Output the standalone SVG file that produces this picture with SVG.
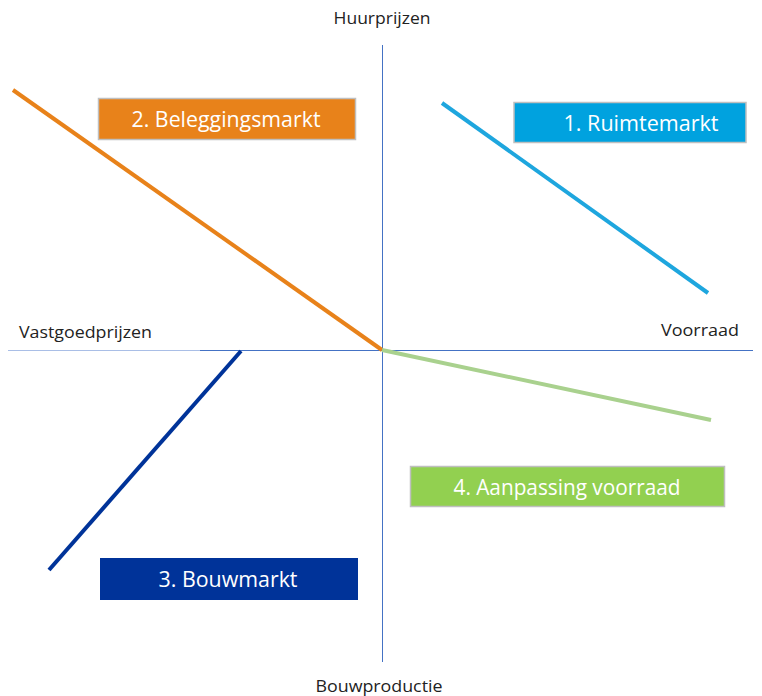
<svg xmlns="http://www.w3.org/2000/svg" width="762" height="696" viewBox="0 0 762 696">
<style>
.ax{font-family:"Open Sans","Noto Sans",sans-serif;font-size:16px;fill:#222}
.bx{font-family:"Open Sans","Noto Sans",sans-serif;font-size:21px;fill:#fff}
.ln{stroke-width:4;fill:none}
</style>
<rect width="762" height="696" fill="#fff"/>
<g id="axes">
<line x1="8" y1="350.5" x2="200" y2="350.5" stroke="#A9BEE6" stroke-width="1"/>
<line x1="200" y1="350.5" x2="753" y2="350.5" stroke="#4472C4" stroke-width="1"/>
<line x1="382.5" y1="45" x2="382.5" y2="662" stroke="#4472C4" stroke-width="1"/>
<text class="ax" x="382" y="24" text-anchor="middle" textLength="97" lengthAdjust="spacingAndGlyphs">Huurprijzen</text>
<text class="ax" x="19" y="338" textLength="133" lengthAdjust="spacingAndGlyphs">Vastgoedprijzen</text>
<text class="ax" x="661" y="336" textLength="78" lengthAdjust="spacingAndGlyphs">Voorraad</text>
<text class="ax" x="379" y="692" text-anchor="middle" textLength="127" lengthAdjust="spacingAndGlyphs">Bouwproductie</text>
</g>
<g id="connectors">
<line class="ln" x1="13" y1="90" x2="382" y2="350" stroke="#E8821A"/>
<line class="ln" x1="442" y1="103" x2="708" y2="293" stroke="#1EA6DE"/>
<line class="ln" x1="382" y1="350" x2="711" y2="420" stroke="#A9D18E"/>
<line class="ln" x1="241" y1="351" x2="49" y2="570" stroke="#003399"/>
</g>
<g id="node2">
<rect x="98.5" y="98.5" width="257" height="41" fill="#E8821A" stroke="#BFBFBF" stroke-width="1.5"/>
<text class="bx" x="226" y="127" text-anchor="middle" textLength="189" lengthAdjust="spacingAndGlyphs">2. Beleggingsmarkt</text>
</g>
<g id="node1">
<rect x="514" y="102.5" width="232" height="40" fill="#00A2DF" stroke="#BFBFBF" stroke-width="1.5"/>
<text class="bx" x="641" y="131" text-anchor="middle" textLength="155" lengthAdjust="spacingAndGlyphs">1. Ruimtemarkt</text>
</g>
<g id="node4">
<rect x="410.5" y="466.5" width="314" height="40" fill="#92D050" stroke="#BFBFBF" stroke-width="1.5"/>
<text class="bx" x="567" y="495" text-anchor="middle" textLength="227" lengthAdjust="spacingAndGlyphs">4. Aanpassing voorraad</text>
</g>
<g id="node3">
<rect x="100" y="558" width="258" height="42" fill="#003399"/>
<text class="bx" x="228" y="587" text-anchor="middle" textLength="139" lengthAdjust="spacingAndGlyphs">3. Bouwmarkt</text>
</g>
</svg>
